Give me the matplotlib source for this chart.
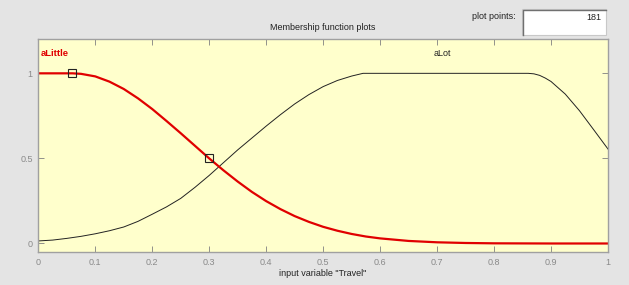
# Membership function plot for input variable "Travel" (fuzzy editor style).

import matplotlib
matplotlib.use("Agg")
import matplotlib.pyplot as plt
from matplotlib.patches import Rectangle
from matplotlib.lines import Line2D

# aLittle membership curve
little_x = [0.0, 0.06, 0.075, 0.1, 0.125, 0.15, 0.175, 0.2, 0.225, 0.25, 0.275,
            0.3, 0.325, 0.35, 0.375, 0.4, 0.425, 0.45, 0.475, 0.5, 0.525,
            0.55, 0.575, 0.6, 0.65, 0.7, 0.75, 0.8, 0.9, 1.0]
little_y = [1.0, 1.0, 0.997, 0.982, 0.951, 0.908, 0.853, 0.79, 0.72, 0.648,
            0.574, 0.5, 0.43, 0.364, 0.303, 0.249, 0.202, 0.161, 0.127, 0.098,
            0.075, 0.056, 0.041, 0.03, 0.015, 0.007, 0.003, 0.001, 0.0, 0.0]

# aLot membership curve
lot_x = [0.0, 0.025, 0.05, 0.075, 0.1, 0.125, 0.15, 0.175, 0.2, 0.225, 0.25,
         0.275, 0.3, 0.325, 0.35, 0.375, 0.4, 0.425, 0.45, 0.475, 0.5, 0.525,
         0.55, 0.57, 0.86, 0.87, 0.88, 0.89, 0.9, 0.925, 0.95, 0.975, 1.0]
lot_y = [0.015, 0.02, 0.03, 0.042, 0.057, 0.075, 0.097, 0.13, 0.172, 0.215,
         0.265, 0.33, 0.40, 0.475, 0.55, 0.62, 0.69, 0.757, 0.82, 0.875,
         0.922, 0.958, 0.984, 1.0, 1.0, 0.997, 0.988, 0.972, 0.952, 0.878,
         0.78, 0.668, 0.555]

# square handles on the selected (red) function
handle_x = [0.06, 0.3]
handle_y = [1.0, 0.5]

xticks = [0, 0.1, 0.2, 0.3, 0.4, 0.5, 0.6, 0.7, 0.8, 0.9, 1]
xticklabels = ["0", "0.1", "0.2", "0.3", "0.4", "0.5", "0.6", "0.7", "0.8", "0.9", "1"]
yticks = [0, 0.5, 1]
yticklabels = ["0", "0.5", "1"]

W, H = 629, 285
plt.rcParams["font.family"] = ["Liberation Sans", "DejaVu Sans"]

fig = plt.figure(figsize=(W / 100, H / 100), dpi=100, facecolor="#e4e4e4")


def fx(px):
    return px / W


def fy(py):
    return 1 - py / H


ax = fig.add_axes([fx(38.3), fy(252), fx(608) - fx(38.3), fy(39.3) - fy(252)])
ax.set_facecolor("#ffffcc")

ax.plot(lot_x, lot_y, color="#222222", linewidth=0.7)
ax.plot(little_x, little_y, color="#e00000", linewidth=1.6)
ax.plot(handle_x, handle_y, linestyle="none", marker="s", markersize=6,
        markerfacecolor="none", markeredgecolor="#222222", markeredgewidth=0.8)

ax.set_xlim(0, 1)
ax.set_ylim(-0.05, 1.2)
ax.set_xticks(xticks)
ax.set_xticklabels(xticklabels)
ax.set_yticks(yticks)
ax.set_yticklabels(yticklabels)
ax.tick_params(direction="in", length=4, width=0.6, color="#808080",
               labelcolor="#8a8a8a", labelsize=6.5, top=True, right=True)
ax.tick_params(axis="x", pad=4)
ax.tick_params(axis="y", pad=4)
for spine in ax.spines.values():
    spine.set_color("#a0a0a0")
    spine.set_linewidth(1.0)

# function names
ax.text(0.004, 1.115, "aLittle", color="#e00000", fontsize=6.8,
        fontweight="bold", ha="left", va="center")
ax.text(0.71, 1.115, "aLot", color="#222222", fontsize=6.5,
        ha="center", va="center")

# labels around the axes
fig.text(fx(323), fy(28), "Membership function plots", fontsize=6.5,
         ha="center", va="center", color="#222222")
fig.text(fx(323), fy(273), 'input variable "Travel"', fontsize=6.5,
         ha="center", va="center", color="#222222")

# "plot points" edit box (sunken look: dark top/left edges)
fig.text(fx(516), fy(16.5), "plot points:", fontsize=6.5,
         ha="right", va="center", color="#222222")
fig.patches.append(Rectangle((fx(522), fy(35)), fx(605.7) - fx(522),
                             fy(9) - fy(35), transform=fig.transFigure,
                             facecolor="white", edgecolor="#c8c8c8",
                             linewidth=0.8))
fig.lines.append(Line2D([fx(522.5), fx(522.5), fx(605.5)],
                        [fy(35), fy(9.5), fy(9.5)], transform=fig.transFigure,
                        color="#707070", linewidth=1.0))
fig.text(fx(601), fy(17), "181", fontsize=6.5, ha="right", va="center",
         color="#222222")

fig.savefig("out.png", dpi=100, facecolor=fig.get_facecolor())
